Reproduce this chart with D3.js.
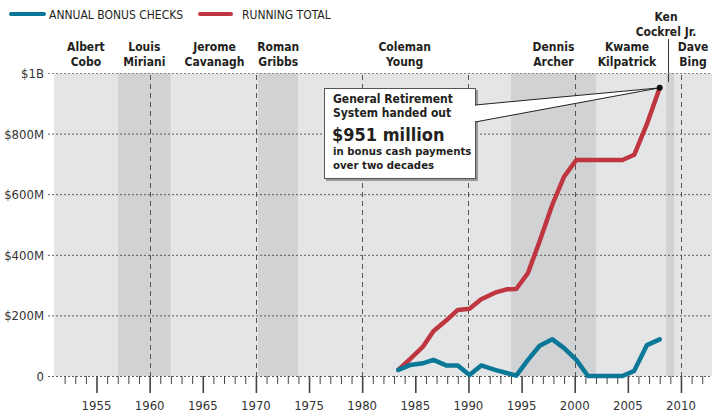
<!DOCTYPE html>
<html>
<head>
<meta charset="utf-8">
<script src="https://cdn.jsdelivr.net/npm/d3@7"></script>
<style>
  body { margin: 0; background: #fff; }
  svg { display: block; font-family: "Liberation Sans Narrow", "DejaVu Sans Condensed", "Roboto", sans-serif; font-stretch: condensed; }
</style>
</head>
<body>
<svg id="chart" width="712" height="419"></svg>
<script>
// mayoral terms (years in office as shown by the shading)
const mayorFirst = ["Albert", "Louis", "Jerome", "Roman", "Coleman", "Dennis", "Kwame", "Ken", "Dave"];
const mayorLast  = ["Cobo", "Miriani", "Cavanagh", "Gribbs", "Young", "Archer", "Kilpatrick", "Cockrel Jr.", "Bing"];
const termStart  = [1951, 1957, 1962, 1970.2, 1974, 1994, 2002, 2008.6, 2009.4];
const termEnd    = [1957, 1962, 1970.2, 1974, 1994, 2002, 2008.6, 2009.4, 2012.92];

// bonus payments, $ millions, positions
const years   = [1983.4, 1984.5, 1985.7, 1986.7, 1987.9, 1989.0, 1990.1, 1991.2, 1992.5, 1993.6, 1994.5, 1995.6,
                 1996.7, 1997.9, 1999.0, 2000.15, 2001.25, 2002.35, 2003.4, 2004.5, 2005.6, 2006.8, 2008.0];
const annual  = [20, 36, 42, 53, 35, 35, 3, 35, 20, 10, 1, 53, 100, 121, 92, 53, 0, 0, 0, 0, 17, 102, 121];
const running = [20, 56, 96, 148, 183, 218, 222, 253, 275, 286, 287, 340, 445, 566, 658, 713, 713, 713, 713, 713, 730, 832, 951];

const yTicks = [0, 200, 400, 600, 800, 1000];
const yTickLabels = ["0", "$200M", "$400M", "$600M", "$800M", "$1B"];
const xLabelYears = [1955, 1960, 1965, 1970, 1975, 1980, 1985, 1990, 1995, 2000, 2005, 2010];

const blue = "#0b7898", red = "#bf3540";

const buildVis = (svg_name) => {
    let chart = d3.select(svg_name);
    let x = d3.scaleLinear().domain([1951, 2012.92]).range([54, 712]);
    let y = d3.scaleLinear().domain([0, 1000]).range([376, 73]);

    // shaded terms
    chart.append("g").selectAll("rect")
        .data(termStart)
        .enter().append("rect")
            .attr("x", (d) => x(d))
            .attr("width", (d, i) => x(termEnd[i]) - x(d))
            .attr("y", y(1000))
            .attr("height", y(0) - y(1000))
            .attr("fill", (d, i) => i % 2 == 0 ? "#e4e5e6" : "#d1d2d4");

    // mayor names
    let names = chart.append("g").attr("fill", "#231f20").style("font-size", "12px").style("font-weight", "bold")
        .attr("text-anchor", "middle");
    mayorFirst.forEach((f, i) => {
        let cx = (x(termStart[i]) + x(termEnd[i])) / 2;
        let top = 51;
        if (f == "Ken") { top = 21; cx = 666; }
        if (f == "Dave") cx = 693;
        if (f == "Kwame") cx = 627;
        names.append("text").attr("x", cx).attr("y", top).text(f);
        names.append("text").attr("x", cx).attr("y", top + 14.5).text(mayorLast[i]);
    });
    chart.append("line").attr("x1", 668.5).attr("x2", 668.5).attr("y1", 39).attr("y2", 82)
        .attr("stroke", "#333").attr("stroke-width", 1);

    // horizontal grid
    chart.append("g").selectAll("line")
        .data(yTicks)
        .enter().append("line")
            .attr("x1", 48).attr("x2", 712)
            .attr("y1", (d) => y(d) + 0.5).attr("y2", (d) => y(d) + 0.5)
            .attr("stroke", (d) => d == 1000 ? "#8a8a8a" : "#5a5a5a")
            .attr("stroke-width", 1)
            .attr("stroke-dasharray", "2,2");

    // decade lines
    chart.append("g").selectAll("line")
        .data([1960, 1970, 1980, 1990, 2000, 2010])
        .enter().append("line")
            .attr("x1", (d) => Math.round(x(d)) + 0.5).attr("x2", (d) => Math.round(x(d)) + 0.5)
            .attr("y1", y(1000) + 2).attr("y2", y(0))
            .attr("stroke", "#555").attr("stroke-width", 1).attr("stroke-dasharray", "5,4");

    // y labels
    chart.append("g").selectAll("text")
        .data(yTicks)
        .enter().append("text")
            .attr("x", 44).attr("y", (d) => y(d) + 5)
            .attr("text-anchor", "end").attr("fill", "#333").style("font-size", "13px")
            .text((d, i) => yTickLabels[i]);

    // x axis ticks
    let x_axis = d3.axisBottom(x).tickValues(d3.range(1952, 2013)).tickSize(8).tickFormat("");
    let axisG = chart.append("g").attr("transform", "translate(0," + y(0) + ")").call(x_axis);
    axisG.select(".domain").remove();
    axisG.selectAll(".tick line")
        .attr("stroke", "#444")
        .attr("y2", (d) => d % 5 == 0 ? 17 : 8)
        .attr("stroke-width", (d) => d % 5 == 0 ? 1.6 : 1);
    chart.append("g").selectAll("text")
        .data(xLabelYears)
        .enter().append("text")
            .attr("x", (d) => x(d)).attr("y", 410)
            .attr("text-anchor", "middle").attr("fill", "#333").style("font-size", "13px")
            .text((d) => d);

    // lines
    let line = (vals) => d3.line().x((d, i) => x(years[i])).y((d) => y(d))(vals);
    chart.append("path").attr("d", line(running)).attr("fill", "none").attr("stroke", red)
        .attr("stroke-width", 4.5).attr("stroke-linejoin", "round").attr("stroke-linecap", "round");
    chart.append("path").attr("d", line(annual)).attr("fill", "none").attr("stroke", blue)
        .attr("stroke-width", 4.5).attr("stroke-linejoin", "round").attr("stroke-linecap", "round");

    // callout
    let px = x(years[years.length - 1]), py = y(running[running.length - 1]);
    chart.append("rect").attr("x", 326).attr("y", 90).attr("width", 152).attr("height", 91).attr("fill", "#9a9a9a");
    chart.append("path")
        .attr("d", "M475," + 105 + "L" + px + "," + py + "L475," + 122 + "Z")
        .attr("fill", "#fff").attr("stroke", "#222").attr("stroke-width", 1);
    chart.append("rect").attr("x", 324.5).attr("y", 88.5).attr("width", 151).attr("height", 90)
        .attr("fill", "#fff").attr("stroke", "#555").attr("stroke-width", 1);
    chart.append("rect").attr("x", 474).attr("y", 106).attr("width", 3).attr("height", 15).attr("fill", "#fff");
    chart.append("circle").attr("cx", px).attr("cy", py).attr("r", 3).attr("fill", "#111");
    let note = chart.append("g").attr("fill", "#231f20").style("font-weight", "bold");
    note.append("text").attr("x", 333).attr("y", 103).style("font-size", "12px").text("General Retirement");
    note.append("text").attr("x", 333).attr("y", 117).style("font-size", "12px").text("System handed out");
    note.append("text").attr("x", 332).attr("y", 141).style("font-size", "18px").text("$951 million");
    note.append("text").attr("x", 333).attr("y", 155).style("font-size", "11.3px").text("in bonus cash payments");
    note.append("text").attr("x", 333).attr("y", 169).style("font-size", "11.3px").text("over two decades");

    // legend
    let legend = chart.append("g");
    legend.append("line").attr("x1", 11).attr("x2", 44).attr("y1", 14).attr("y2", 14)
        .attr("stroke", blue).attr("stroke-width", 4).attr("stroke-linecap", "round");
    legend.append("text").attr("x", 49).attr("y", 18.5).attr("fill", "#231f20").style("font-size", "12px")
        .text("ANNUAL BONUS CHECKS");
    legend.append("line").attr("x1", 200).attr("x2", 231).attr("y1", 14).attr("y2", 14)
        .attr("stroke", red).attr("stroke-width", 4).attr("stroke-linecap", "round");
    legend.append("text").attr("x", 242).attr("y", 18.5).attr("fill", "#231f20").style("font-size", "12px")
        .text("RUNNING TOTAL");
}

buildVis("#chart");
</script>
</body>
</html>
